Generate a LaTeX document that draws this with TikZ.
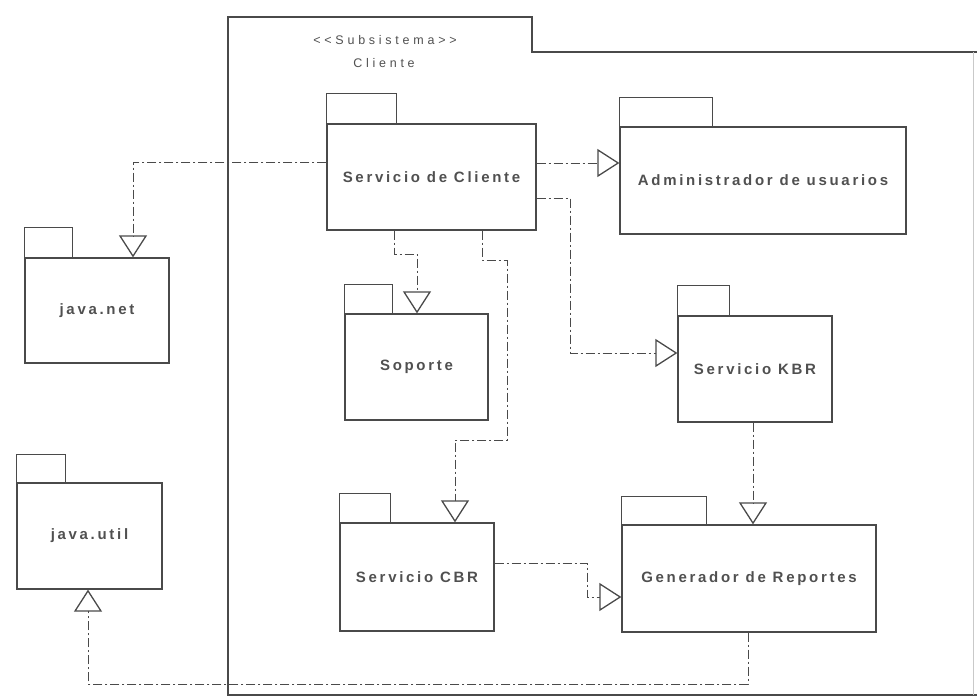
\documentclass[tikz,border=0pt]{standalone}
\usepackage{fontspec}
\setmainfont{Liberation Sans}
\usetikzlibrary{arrows.meta}
\newfontfamily\pkgfont[LetterSpace=18]{Liberation Sans}
\newfontfamily\subfont[LetterSpace=30]{Liberation Sans}
\definecolor{ink}{HTML}{4A4A4A}
\definecolor{txt}{HTML}{505050}
\tikzset{
  pkgbody/.style={draw=ink, line width=1.3pt, inner sep=0pt, text=txt,
    font=\pkgfont\bfseries\fontsize{15}{17}\selectfont},
  pkgtab/.style={draw=ink, line width=1.3pt},
  frameline/.style={draw=ink, line width=1.3pt},
  subtxt/.style={text=txt, inner sep=0pt, font=\subfont\fontsize{12.5}{15}\selectfont},
  dep/.style={draw=ink, line width=1pt, dash pattern=on 9pt off 3pt on 2pt off 3pt,
    -{Triangle[open, length=22pt, width=28pt, line width=1.3pt]}},
}
\begin{document}
\begin{tikzpicture}[x=1pt, y=-1pt]
\useasboundingbox (0,0) rectangle (977,698);
% subsystem frame
\draw[frameline] (977,52) -- (532,52) -- (532,17) -- (228,17) -- (228,695) -- (977,695);
\draw[draw=ink!30, line width=0.8pt] (973,52) -- (973,695);
\node[subtxt] (st) at (385,40) {<<Subsistema>>};
\node[subtxt] (sn) at (384,63) {Cliente};
% packages
\node[pkgbody, minimum width=209pt, minimum height=106pt] (sc) at (431.5,177) {Servicio de Cliente};
\draw[pkgtab] (sc.north west) rectangle ++(70,-30);
\node[pkgbody, minimum width=286pt, minimum height=107pt] (adm) at (763,180.5) {Administrador de usuarios};
\draw[pkgtab] (adm.north west) rectangle ++(93,-29);
\node[pkgbody, minimum width=144pt, minimum height=105pt] (jn) at (97,310.5) {java.net};
\draw[pkgtab] (jn.north west) rectangle ++(48,-30);
\node[pkgbody, minimum width=145pt, minimum height=106pt] (ju) at (89.5,536) {java.util};
\draw[pkgtab] (ju.north west) rectangle ++(49,-28);
\node[pkgbody, minimum width=143pt, minimum height=106pt] (sop) at (416.5,367) {Soporte};
\draw[pkgtab] (sop.north west) rectangle ++(48,-29);
\node[pkgbody, minimum width=154pt, minimum height=106pt] (kbr) at (755,369) {Servicio KBR};
\draw[pkgtab] (kbr.north west) rectangle ++(52,-30);
\node[pkgbody, minimum width=154pt, minimum height=108pt] (cbr) at (417,577) {Servicio CBR};
\draw[pkgtab] (cbr.north west) rectangle ++(51,-29);
\node[pkgbody, minimum width=254pt, minimum height=107pt] (gen) at (749,578.5) {Generador de Reportes};
\draw[pkgtab] (gen.north west) rectangle ++(85,-28);
% bend points
\coordinate (b1) at (133,162);
\coordinate (b2) at (570,163);
\coordinate (b3a) at (570,198);
\coordinate (b3b) at (570,353);
\coordinate (b4a) at (394,254);
\coordinate (b4b) at (417,254);
\coordinate (b5a) at (482,260);
\coordinate (b5b) at (507,260);
\coordinate (b5c) at (507,440);
\coordinate (b5d) at (455,440);
\coordinate (b6) at (753,470);
\coordinate (b7a) at (587,563);
\coordinate (b7b) at (587,597);
\coordinate (b8a) at (748,684);
\coordinate (b8b) at (88,684);
% dependencies
\draw[dep] (sc.west |- b1) -- (b1) -- (b1 |- jn.north);
\draw[dep] (sc.east |- b2) -- (adm.west |- b2);
\draw[dep] (sc.east |- b3a) -- (b3a) -- (b3b) -- (kbr.west |- b3b);
\draw[dep] (b4a |- sc.south) -- (b4a) -- (b4b) -- (b4b |- sop.north);
\draw[dep] (b5a |- sc.south) -- (b5a) -- (b5b) -- (b5c) -- (b5d) -- (b5d |- cbr.north);
\draw[dep] (kbr.south -| b6) -- (gen.north -| b6);
\draw[dep] (cbr.east |- b7a) -- (b7a) -- (b7b) -- (gen.west |- b7b);
\draw[dep] (gen.south -| b8a) -- (b8a) -- (b8b) -- (b8b |- ju.south);
\end{tikzpicture}
\end{document}
